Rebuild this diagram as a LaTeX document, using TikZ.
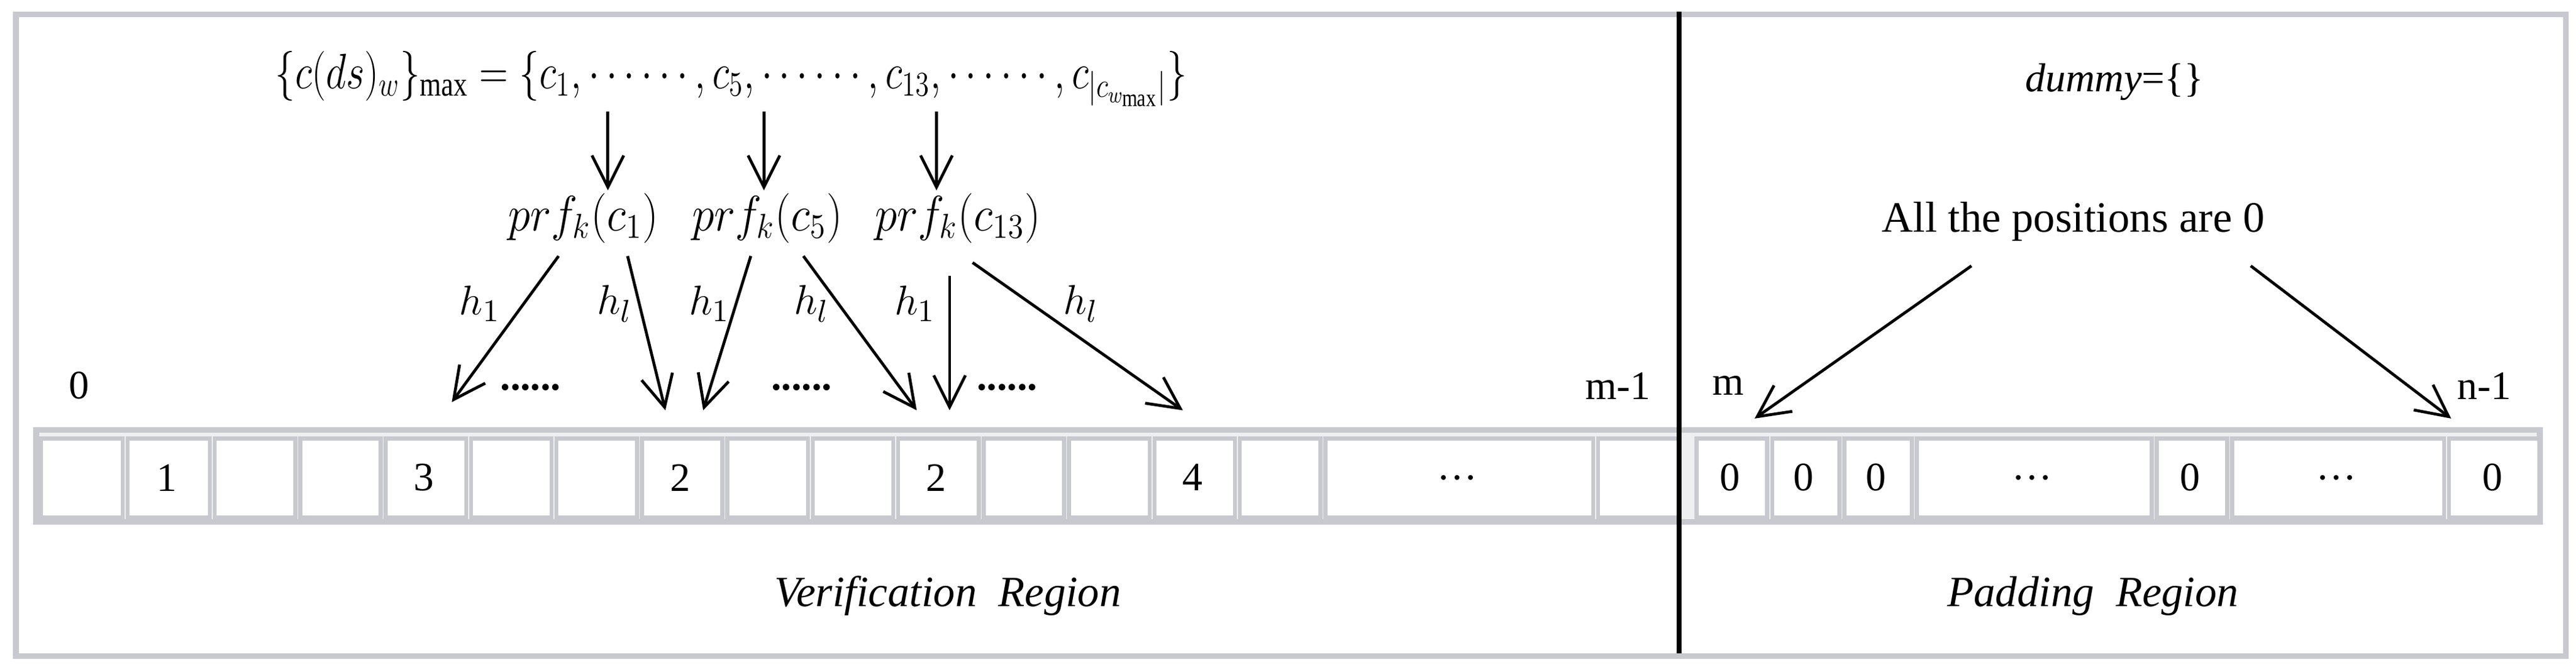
\documentclass[tikz,border=0pt]{standalone}
\usepackage{fontspec}
\setmainfont{Liberation Serif}
\usetikzlibrary{arrows.meta}
\definecolor{fr}{RGB}{200,201,206}
\begin{document}
\begin{tikzpicture}[x=0.02cm,y=-0.02cm,
  cell/.style={draw=fr,line width=1.4pt,fill=white,inner sep=0pt,anchor=north west},
  arr/.style={-{Straight Barb[length=11pt,width=11pt,line width=1pt]},line width=1pt},
  lbl/.style={font=\fontsize{13}{15}\selectfont},
  mth/.style={font=\fontsize{17}{20}\selectfont}]
\useasboundingbox (0,0) rectangle (1568,405);
\node[draw=fr,line width=2pt,minimum width=1552*0.02cm,minimum height=391*0.02cm,anchor=north west] (frame) at (8,7) {};
\draw[fr,line width=2pt,fill=fr!30] (22,262) rectangle (1546,318);
\foreach \a/\b/\t [count=\i] in {22/75/,75/128/1,128/180/,180/232/,232/284/3,284/336/,336/388/,388/440/2,440/492/,492/544/,544/596/2,596/648/,648/700/,700/752/4,752/804/,804/970/\dots,970/1022/,1030/1076/0,1076/1120/0,1120/1164/0,1164/1310/\dots,1310/1356/0,1356/1488/\dots,1488/1546/0}
  \node[cell,minimum width={(\b-\a-3)*0.02cm},minimum height=48*0.02cm] (c\i) at (\a+1.5,266) {};
\foreach \a/\b/\t [count=\i] in {22/75/,75/128/1,128/180/,180/232/,232/284/3,284/336/,336/388/,388/440/2,440/492/,492/544/,544/596/2,596/648/,648/700/,700/752/4,752/804/,804/970/\dots,970/1022/,1030/1076/0,1076/1120/0,1120/1164/0,1164/1310/\dots,1310/1356/0,1356/1488/\dots,1488/1546/0}
  \node[lbl,font=\fontsize{14}{16}\selectfont] (t\i) at ({(\a+\b)/2},291) {\t};
\draw[line width=1.6pt] (1022,7) -- (1022,398);
\node[lbl,font=\fontsize{14}{16}\selectfont] (l0) at (48,235) {0};
\node[lbl,font=\fontsize{14}{16}\selectfont] (lm1) at (985,235) {m-1};
\node[lbl,font=\fontsize{14}{16}\selectfont] (lm) at (1052,235) {m};
\node[lbl,font=\fontsize{14}{16}\selectfont] (ln1) at (1512,235) {n-1};
\node[mth] (set) at (445,48) {\scalebox{0.8}[1]{$\{c(ds)_w\}_{\max}=\{c_1,\cdots\cdots,c_5,\cdots\cdots,c_{13},\cdots\cdots,c_{|c_{w_{\max}}|}\}$}};
\node[lbl,font=\fontsize{14}{16}\selectfont] (dummy) at (1287,50) {\textit{dummy}=\{\}};
\node[lbl,font=\fontsize{15}{17}\selectfont] (all) at (1262,135) {All the positions are 0};
\node[mth] (p1) at (355,133) {\scalebox{0.9}[1]{$prf_k(c_1)$}};
\node[mth] (p5) at (467,133) {\scalebox{0.9}[1]{$prf_k(c_5)$}};
\node[mth] (p13) at (583,133) {\scalebox{0.9}[1]{$prf_k(c_{13})$}};
\coordinate (s1) at (370,68); \coordinate (s5) at (465,68); \coordinate (s13) at (570,68);
\draw[arr] (s1) -- (370,116);
\draw[arr] (s5) -- (465,116);
\draw[arr] (s13) -- (570,116);
\coordinate (e1) at (275,245); \coordinate (e2) at (405,250); \coordinate (e3) at (428,250);
\coordinate (e4) at (558,250); \coordinate (e5) at (578,250); \coordinate (e6) at (720,250);
\draw[arr] (340,156) -- (e1);
\draw[arr] (382,156) -- (e2);
\draw[arr] (457,156) -- (e3);
\draw[arr] (489,156) -- (e4);
\draw[arr] (578,168) -- (e5);
\draw[arr] (592,160) -- (e6);
\foreach \x/\t in {292/h_1,374/h_l,432/h_1,494/h_l,557/h_1,658/h_l}
  \node[mth,font=\fontsize{15}{18}\selectfont] at (\x,185) {$\t$};
\foreach \x in {323,488,613}
  \node[font=\bfseries\fontsize{14}{16}\selectfont] at (\x,236) {......};
\draw[arr] (1200,162) -- (1068,255);
\draw[arr] (1370,162) -- (1492,255);
\node[font=\itshape\fontsize{15}{17}\selectfont] (vr) at (577,363) {Verification\ \ Region};
\node[font=\itshape\fontsize{15}{17}\selectfont] (pr) at (1274,363) {Padding\ \ Region};
\end{tikzpicture}
\end{document}
